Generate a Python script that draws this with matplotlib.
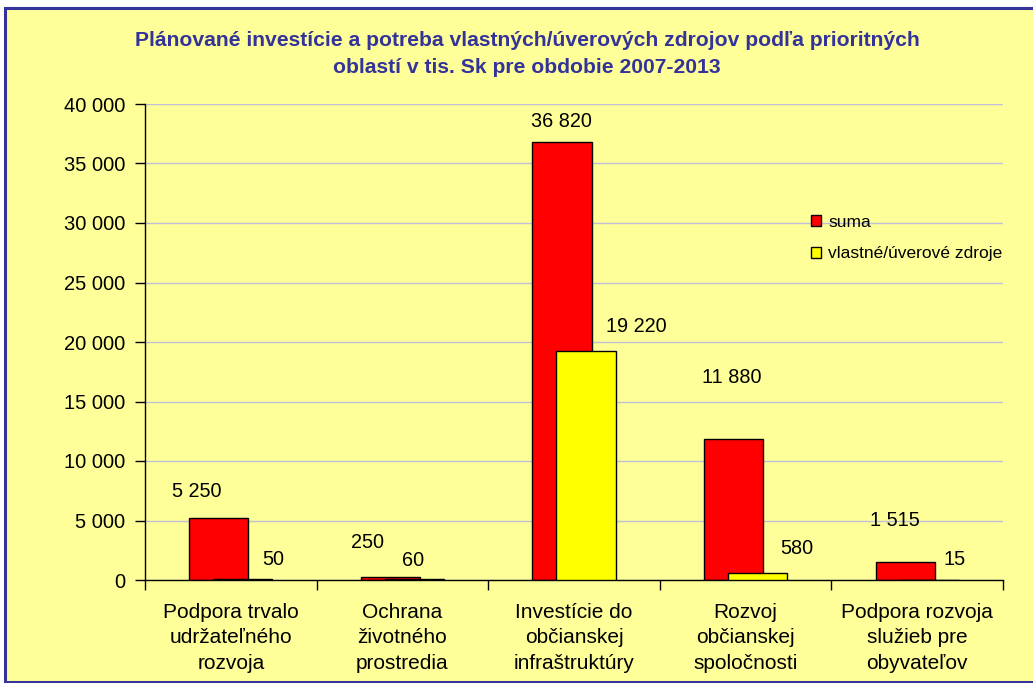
import matplotlib
matplotlib.use("Agg")
import matplotlib.pyplot as plt
import numpy as np
from matplotlib.patches import Rectangle
from matplotlib.ticker import FuncFormatter

plt.rcParams['font.family'] = ['Liberation Sans', 'DejaVu Sans']

categories = [
    "Podpora trvalo\nudržateľného\nrozvoja",
    "Ochrana\nživotného\nprostredia",
    "Investície do\nobčianskej\ninfraštruktúry",
    "Rozvoj\nobčianskej\nspoločnosti",
    "Podpora rozvoja\nslužieb pre\nobyvateľov",
]
suma = [5250, 250, 36820, 11880, 1515]
vlastne = [50, 60, 19220, 580, 15]
series_names = ["suma", "vlastné/úverové zdroje"]

# label offsets in pixels (labels were moved by hand in the original)
suma_offsets = [(-22, 26), (-23, 35), (-1, 20), (-2, 61), (-10, 41)]
vlastne_offsets = [(30, 20), (-1, 19), (50, 25), (39, 25), (25, 20)]

BG = "#FFFF99"
NAVY = "#333399"
RED = "#FF0000"
YELLOW = "#FFFF00"


def fmt(v):
    return f"{int(v):,}".replace(",", " ")


fig = plt.figure(figsize=(10.33, 6.83), dpi=100)
fig.patch.set_facecolor("white")
fig.patches.append(Rectangle((5 / 1033, 0.002), 1.1, 1 - 9 / 683, transform=fig.transFigure,
                             facecolor=BG, edgecolor=NAVY, linewidth=2.2, zorder=-1))

ax = fig.add_axes([145 / 1033, 1 - 580 / 683, 858 / 1033, 476 / 683])
ax.set_zorder(1)
ax.set_facecolor(BG)

x = np.arange(len(categories))
width = 0.344
shift = 0.07
bars_s = ax.bar(x - shift, suma, width, color=RED, edgecolor="black", linewidth=1, zorder=2)
bars_v = ax.bar(x + shift, vlastne, width, color=YELLOW, edgecolor="black", linewidth=1, zorder=3)

for rect, v, (dx, dy) in zip(bars_s, suma, suma_offsets):
    ax.annotate(fmt(v), (rect.get_x() + rect.get_width() / 2, v), xytext=(dx, dy),
                textcoords="offset pixels", ha="center", va="center", fontsize=14.3)
for rect, v, (dx, dy) in zip(bars_v, vlastne, vlastne_offsets):
    ax.annotate(fmt(v), (rect.get_x() + rect.get_width() / 2, v), xytext=(dx, dy),
                textcoords="offset pixels", ha="center", va="center", fontsize=14.3)

ax.set_xlim(-0.5, len(categories) - 0.5)
ax.set_ylim(0, 40000)
ax.set_yticks(np.arange(0, 40001, 5000))
ax.yaxis.set_major_formatter(FuncFormatter(lambda v, p: fmt(v)))
ax.tick_params(axis="y", direction="out", length=7, width=1, labelsize=14.5, pad=7)

ax.set_xticks(np.arange(-0.5, len(categories)), minor=False)
ax.set_xticklabels([])
ax.set_xticks(x, minor=True)
ax.set_xticklabels(categories, minor=True, fontsize=15, linespacing=1.43)
ax.tick_params(axis="x", which="major", direction="out", length=7, width=1)
ax.tick_params(axis="x", which="minor", length=0, pad=16.5)

ax.grid(axis="y", color="#C0C0D8", linewidth=1, zorder=0)
ax.set_axisbelow(True)
for s in ["top", "right"]:
    ax.spines[s].set_visible(False)
for s in ["left", "bottom"]:
    ax.spines[s].set_linewidth(1)

handles = [Rectangle((0, 0), 1, 1, facecolor=RED, edgecolor="black", linewidth=1),
           Rectangle((0, 0), 1, 1, facecolor=YELLOW, edgecolor="black", linewidth=1)]
leg = fig.legend(handles, series_names, loc="upper left", bbox_to_anchor=(811 / 1033, 1 - 215 / 683),
                 frameon=False, fontsize=12.5, handlelength=0.6, handleheight=0.6,
                 handletextpad=0.4, labelspacing=0.95, borderpad=0, borderaxespad=0)
leg.set_zorder(2)

fig.text(527 / 1033, 1 - 54 / 683,
         "Plánované investície a potreba vlastných/úverových zdrojov podľa prioritných\n"
         "oblastí v tis. Sk pre obdobie 2007-2013",
         ha="center", va="center", fontsize=15.2, fontweight="bold", color=NAVY, linespacing=1.5)

fig.savefig("out.png", dpi=100, facecolor=fig.get_facecolor())
